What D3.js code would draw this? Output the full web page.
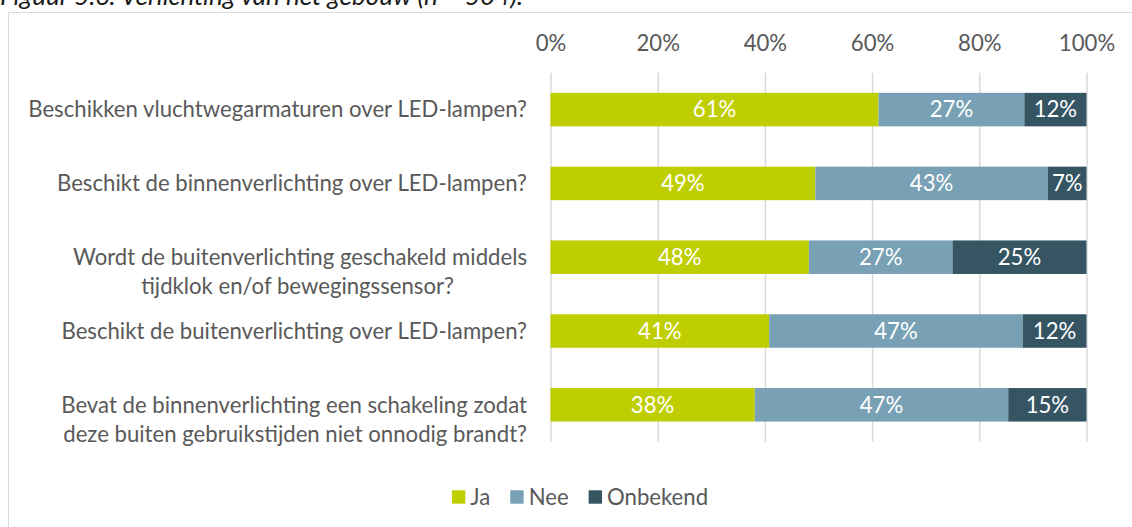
<!DOCTYPE html>
<html>
<head>
<meta charset="utf-8">
<script src="https://cdn.jsdelivr.net/npm/d3@7"></script>
<style>
  html, body { margin: 0; padding: 0; background: #fff; }
  svg { display: block; }
</style>
</head>
<body>
<svg id="chart" width="1132" height="527"></svg>
<script>
// ---- data ----
const title = "Figuur 5.6: Verlichting van het gebouw (n = 504).";
const categories = [
  "Beschikken vluchtwegarmaturen over LED-lampen?",
  "Beschikt de binnenverlichting over LED-lampen?",
  "Wordt de buitenverlichting geschakeld middels tijdklok en/of bewegingssensor?",
  "Beschikt de buitenverlichting over LED-lampen?",
  "Bevat de binnenverlichting een schakeling zodat deze buiten gebruikstijden niet onnodig brandt?"
];
const categoryLines = [
  ["Beschikken vluchtwegarmaturen over LED-lampen?"],
  ["Beschikt de binnenverlichting over LED-lampen?"],
  ["Wordt de buitenverlichting geschakeld middels", "tijdklok en/of bewegingssensor?"],
  ["Beschikt de buitenverlichting over LED-lampen?"],
  ["Bevat de binnenverlichting een schakeling zodat", "deze buiten gebruikstijden niet onnodig brandt?"]
];
const seriesNames = ["Ja", "Nee", "Onbekend"];
const ja       = [61.2, 49.4, 48.2, 40.8, 38.1];
const nee      = [27.2, 43.4, 26.8, 47.3, 47.3];
const onbekend = [11.6,  7.2, 25.0, 11.9, 14.6];
const tickValues = [0, 20, 40, 60, 80, 100];

// ---- styles / layout ----
const colors = { "Ja": "#bfce00", "Nee": "#78a1b5", "Onbekend": "#355563" };
const textColor = "#595959";
const fontFamily = "Lato, 'Open Sans', sans-serif";
const plot = { left: 550.5, right: 1086.5, top: 72.7, bottom: 441.7 };
const labelRight = 527;

const svg = d3.select("#chart");

// fit font size so that the first label matches the reference width (~499px)
const probe = svg.append("text").attr("font-family", fontFamily).attr("font-size", 20)
  .text(categoryLines[0][0]);
const w20 = probe.node().getComputedTextLength();
probe.remove();
const fs = Math.max(14, Math.min(26, 20 * 499 / w20));

// frame
svg.append("rect")
  .attr("x", 8.5).attr("y", 12.5).attr("width", 1300).attr("height", 700)
  .attr("fill", "none").attr("stroke", "#d9d9d9").attr("stroke-width", 1);

// title (clipped at top like reference)
const tprobe = svg.append("text").attr("font-family", fontFamily).attr("font-size", 20)
  .attr("font-style", "italic").text(title);
const tw = tprobe.node().getComputedTextLength();
tprobe.remove();
svg.append("text")
  .attr("x", 0).attr("y", 5)
  .attr("font-family", fontFamily)
  .attr("font-style", "italic")
  .attr("font-size", Math.min(26, 20 * 530 / tw))
  .attr("fill", "#1a1a1a")
  .text(title);

// scales
const x = d3.scaleLinear().domain([0, 100]).range([plot.left, plot.right]);
const y = d3.scaleBand().domain(categories).range([plot.top, plot.bottom])
  .paddingInner(0.546).paddingOuter(0.273);

// data table
const table = categories.map((c, i) => ({ cat: c, Ja: ja[i], Nee: nee[i], Onbekend: onbekend[i] }));
const stacked = d3.stack().keys(seriesNames)(table);

// gridlines
const grid = svg.append("g")
  .attr("transform", `translate(0,${plot.bottom})`)
  .call(d3.axisBottom(x).tickValues(tickValues).tickSize(-(plot.bottom - plot.top)).tickFormat(""));
grid.select(".domain").remove();
grid.selectAll(".tick line").attr("stroke", "#d9d9d9").attr("stroke-width", 1.5);

// top axis labels
const ax = svg.append("g")
  .attr("transform", `translate(0,43)`)
  .call(d3.axisTop(x).tickValues(tickValues).tickSize(0).tickPadding(0).tickFormat(d => d + "%"));
ax.select(".domain").remove();
ax.selectAll(".tick line").remove();
ax.selectAll(".tick text")
  .attr("y", 0).attr("dy", "0.35em")
  .attr("font-family", fontFamily).attr("font-size", fs).attr("fill", textColor);

// bars
const layers = svg.append("g").selectAll("g").data(stacked).join("g")
  .attr("fill", d => colors[d.key]);
layers.selectAll("rect").data(d => d).join("rect")
  .attr("x", d => x(d[0]))
  .attr("width", d => x(d[1]) - x(d[0]))
  .attr("y", d => y(d.data.cat))
  .attr("height", y.bandwidth());

// value labels
const vl = svg.append("g");
stacked.forEach(layer => {
  vl.selectAll(null).data(layer).join("text")
    .attr("x", d => (x(d[0]) + x(d[1])) / 2)
    .attr("y", d => y(d.data.cat) + y.bandwidth() / 2)
    .attr("dy", "0.35em")
    .attr("text-anchor", "middle")
    .attr("font-family", fontFamily).attr("font-size", fs)
    .attr("fill", "#ffffff")
    .text(d => Math.round(d[1] - d[0]) + "%");
});

// category labels
const lineH = 29;
const lineOffsets = { 2: [0, -73], 4: [0, 0] };
const cl = svg.append("g");
categories.forEach((c, i) => {
  const cy = y(c) + y.bandwidth() / 2;
  categoryLines[i].forEach((ln, j) => {
    const off = (lineOffsets[i] || [0])[j] || 0;
    cl.append("text")
      .attr("x", labelRight + off)
      .attr("y", cy + j * lineH)
      .attr("dy", "0.35em")
      .attr("text-anchor", "end")
      .attr("font-family", fontFamily).attr("font-size", fs)
      .attr("fill", textColor)
      .text(ln);
  });
});

// legend
const lg = svg.append("g");
const sq = 13.4, gapT = 5, gapItem = 20, legY = 497;
let items = seriesNames.map(n => {
  const t = lg.append("text").attr("font-family", fontFamily).attr("font-size", fs).text(n);
  const w = t.node().getComputedTextLength();
  t.remove();
  return { n, w };
});
const total = d3.sum(items, d => sq + gapT + d.w) + gapItem * (items.length - 1);
let cx = 580 - total / 2;
items.forEach(it => {
  lg.append("rect").attr("x", cx).attr("y", legY - sq / 2).attr("width", sq).attr("height", sq)
    .attr("fill", colors[it.n]);
  lg.append("text").attr("x", cx + sq + gapT).attr("y", legY).attr("dy", "0.35em")
    .attr("font-family", fontFamily).attr("font-size", fs).attr("fill", textColor).text(it.n);
  cx += sq + gapT + it.w + gapItem;
});
</script>
</body>
</html>
